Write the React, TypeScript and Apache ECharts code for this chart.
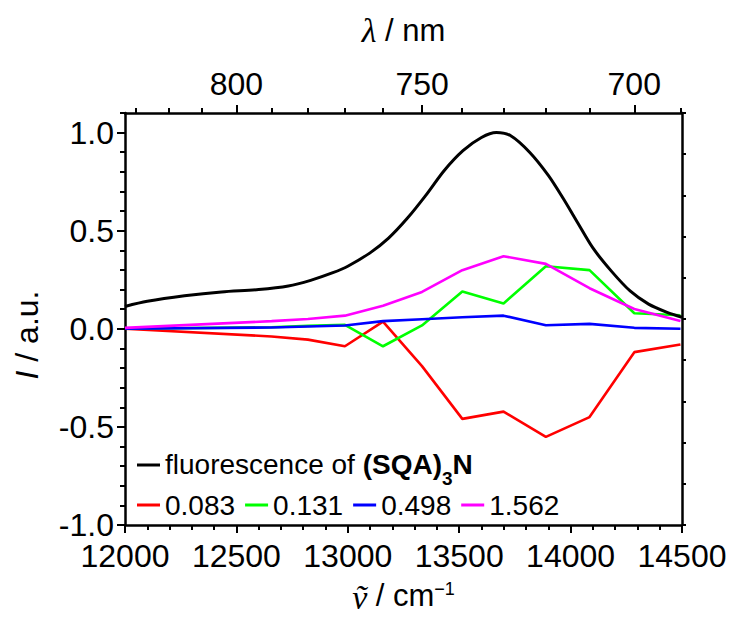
import React, { useEffect, useRef } from "react";
import * as echarts from "echarts";

// Fluorescence spectrum of (SQA)3N (black)
const fluorWn = [12000, 12100, 12267, 12433, 12600, 12733, 12833, 12933, 13000, 13100, 13183, 13267, 13350, 13433, 13517, 13600, 13667, 13733, 13817, 13900, 13967, 14033, 14100, 14183, 14267, 14350, 14433, 14500];
const fluorI = [0.114, 0.14, 0.168, 0.188, 0.2, 0.218, 0.247, 0.286, 0.319, 0.387, 0.462, 0.563, 0.68, 0.807, 0.908, 0.975, 1.0, 0.983, 0.899, 0.782, 0.664, 0.538, 0.412, 0.294, 0.193, 0.126, 0.084, 0.059];

// Difference spectra sampled at these wavenumbers
const sampleWn = [12000, 12658, 12821, 12987, 13158, 13333, 13514, 13699, 13889, 14085, 14286, 14493];
const red083 = [0.0, -0.039, -0.055, -0.089, 0.037, -0.19, -0.459, -0.422, -0.551, -0.45, -0.119, -0.08];
const green131 = [0.0, 0.008, 0.015, 0.02, -0.089, 0.017, 0.19, 0.129, 0.319, 0.299, 0.079, 0.069];
const blue498 = [0.0, 0.007, 0.012, 0.017, 0.039, 0.049, 0.059, 0.067, 0.018, 0.025, 0.005, 0.0];
const magenta1562 = [0.005, 0.039, 0.05, 0.067, 0.118, 0.188, 0.299, 0.37, 0.331, 0.207, 0.101, 0.04];

const seriesNames = ["0.083", "0.131", "0.498", "1.562"];
const seriesColors = ["#ff0000", "#00ff00", "#0000ff", "#ff00ff"];

// Top axis (wavelength, nm)
const lambdaMajor = [800, 750, 700];
const lambdaMinor = [830, 820, 810, 790, 780, 770, 760, 740, 730, 720, 710, 690];

const SANS = "'Liberation Sans', Arial, sans-serif";
const SERIF = "'Liberation Serif', 'DejaVu Serif', 'Times New Roman', serif";

export default function App() {
  const ref = useRef<HTMLDivElement>(null);
  useEffect(() => {
    if (!ref.current) return;
    const chart = echarts.init(ref.current, null, { renderer: "svg" });
    const zip = (xs: number[], ys: number[]) => xs.map((x, i) => [x, ys[i]]);
    const toWn = (l: number) => 1e7 / l;
    const axisLine = { show: true, onZero: false, lineStyle: { color: "#000", width: 2.5 } };
    const tickLabel = { color: "#000", fontSize: 32, fontFamily: SANS };
    const tickStyle = { width: 2, color: "#000" };
    const colored = [red083, green131, blue498, magenta1562];

    chart.setOption({
      animation: false,
      backgroundColor: "#fff",
      grid: { left: 125, top: 113, width: 557, height: 419, containLabel: false },
      xAxis: [
        {
          type: "value",
          position: "bottom",
          min: 12000,
          max: 14500,
          interval: 500,
          axisLine,
          axisTick: { show: true, length: 8, lineStyle: tickStyle },
          minorTick: { show: true, splitNumber: 5, length: 5, lineStyle: tickStyle },
          splitLine: { show: false },
          axisLabel: { ...tickLabel, margin: 15, showMinLabel: true, showMaxLabel: true, formatter: (v: number) => String(v) },
          name: "{v|ṽ}{n| / cm}{s|−1}",
          nameLocation: "middle",
          nameGap: 55,
          nameTextStyle: {
            rich: {
              v: { fontFamily: SERIF, fontStyle: "italic", fontSize: 34, color: "#000", lineHeight: 32, verticalAlign: "top" },
              n: { fontFamily: SANS, fontSize: 31, color: "#000", lineHeight: 32, verticalAlign: "top" },
              s: { fontFamily: SANS, fontSize: 18, color: "#000", lineHeight: 18, verticalAlign: "top" },
            },
          },
        },
        {
          type: "value",
          position: "top",
          min: 12000,
          max: 14500,
          axisLine,
          axisTick: { show: true, length: 8, customValues: lambdaMajor.map(toWn), lineStyle: tickStyle },
          axisLabel: {
            ...tickLabel,
            margin: 13,
            customValues: lambdaMajor.map(toWn),
            formatter: (v: number) => String(Math.round(1e7 / v)),
          },
          splitLine: { show: false },
          name: "{l|λ}{n| / nm}",
          nameLocation: "middle",
          nameGap: 66,
          nameTextStyle: {
            rich: {
              l: { fontFamily: SERIF, fontStyle: "italic", fontSize: 34, color: "#000" },
              n: { fontFamily: SANS, fontSize: 31, color: "#000" },
            },
          },
        },
        {
          type: "value",
          position: "top",
          min: 12000,
          max: 14500,
          axisLine: { show: false, onZero: false },
          axisTick: { show: true, length: 5, customValues: lambdaMinor.map(toWn), lineStyle: tickStyle },
          axisLabel: { show: false },
          splitLine: { show: false },
        },
      ],
      yAxis: [
        {
          type: "value",
          position: "left",
          min: -1.0,
          max: 1.1,
          interval: 0.5,
          axisLine,
          axisTick: { show: true, length: 8, lineStyle: tickStyle },
          axisLabel: { ...tickLabel, margin: 11, showMaxLabel: false, formatter: (v: number) => v.toFixed(1) },
          splitLine: { show: false },
          name: "{i|I}{n| / a.u.}",
          nameLocation: "middle",
          nameRotate: 90,
          nameGap: 82,
          nameTextStyle: {
            padding: [0, 32, 0, 0],
            rich: {
              i: { fontFamily: SANS, fontStyle: "italic", fontSize: 32, color: "#000" },
              n: { fontFamily: SANS, fontSize: 32, color: "#000" },
            },
          },
        },
        {
          type: "value",
          position: "left",
          min: -1.0,
          max: 1.1,
          interval: 0.1,
          axisLine: { show: false, onZero: false },
          axisTick: { show: true, length: 5, lineStyle: tickStyle },
          axisLabel: { show: false },
          splitLine: { show: false },
        },
        {
          type: "value",
          position: "right",
          min: 0,
          max: 10,
          interval: 1,
          axisLine,
          axisTick: { show: true, length: 4, lineStyle: tickStyle },
          axisLabel: { show: false },
          splitLine: { show: false },
        },
      ],
      legend: [
        {
          data: ["fluor"],
          left: 137,
          top: 450,
          padding: 0,
          icon: "rect",
          itemWidth: 23,
          itemHeight: 3,
          formatter: () => "{n|fluorescence of }{b|(SQA)}{s|3}{b|N}",
          textStyle: {
            color: "#000",
            fontFamily: SANS,
            fontSize: 28,
            rich: {
              n: { fontFamily: SANS, fontSize: 28, color: "#000", lineHeight: 30, verticalAlign: "top" },
              b: { fontFamily: SANS, fontSize: 28, fontWeight: "bold", color: "#000", lineHeight: 30, verticalAlign: "top" },
              s: { fontFamily: SANS, fontSize: 19, fontWeight: "bold", color: "#000", lineHeight: 19, verticalAlign: "top", padding: [19, 0, 0, 0] },
            },
          },
        },
        {
          data: seriesNames,
          left: 137,
          top: 491,
          padding: 0,
          icon: "rect",
          itemWidth: 23,
          itemHeight: 3,
          itemGap: 10,
          textStyle: { color: "#000", fontFamily: SANS, fontSize: 28 },
        },
      ],
      series: [
        ...colored.map((vals, i) => ({
          name: seriesNames[i],
          type: "line",
          data: zip(sampleWn, vals),
          showSymbol: false,
          symbol: "none",
          lineStyle: { color: seriesColors[i], width: 2.6 },
          itemStyle: { color: seriesColors[i] },
          xAxisIndex: 0,
          yAxisIndex: 0,
        })),
        {
          name: "fluor",
          type: "line",
          data: zip(fluorWn, fluorI),
          smooth: 0.3,
          showSymbol: false,
          symbol: "none",
          lineStyle: { color: "#000", width: 3 },
          itemStyle: { color: "#000" },
          xAxisIndex: 0,
          yAxisIndex: 0,
        },
      ],
    });
    return () => chart.dispose();
  }, []);
  return <div ref={ref} style={{ position: "fixed", left: 0, top: 0, width: 733, height: 619 }} />;
}
